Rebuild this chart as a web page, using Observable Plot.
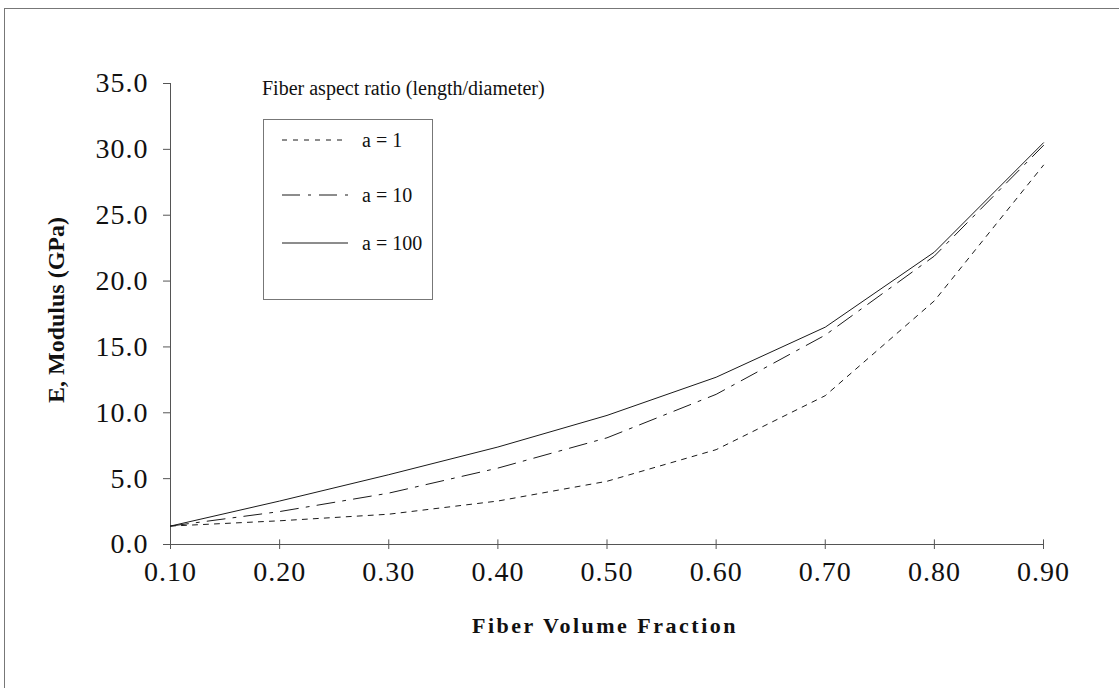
<!DOCTYPE html>
<html>
<head>
<meta charset="utf-8">
<script src="https://cdn.jsdelivr.net/npm/d3@7"></script>
<script src="https://cdn.jsdelivr.net/npm/@observablehq/plot@0.6"></script>
<style>
  html, body { margin: 0; padding: 0; background: #fff; }
  #wrap { position: relative; width: 1119px; height: 688px; overflow: hidden;
          font-family: "Liberation Serif", "Times New Roman", serif; color: #111; }
  #frame { position: absolute; left: 4px; top: 8px; width: 1130px; height: 720px;
           border-left: 1px solid #777; border-top: 1px solid #777; }
  #chart { position: absolute; left: 0; top: 0; }
  #chart svg text { letter-spacing: 1px; }
  .ytitle { position: absolute; left: 56px; top: 310px; transform: translate(-50%, -50%) rotate(-90deg);
            font-weight: bold; font-size: 24px; white-space: nowrap; }
  .xtitle { position: absolute; left: 605px; top: 626px; transform: translate(-50%, -50%);
            font-weight: bold; font-size: 22px; letter-spacing: 2.5px; white-space: nowrap; }
  #legendTitle { position: absolute; left: 262px; top: 88px; transform: translateY(-50%);
                 font-size: 20px; white-space: nowrap; }
  #legendBox { position: absolute; left: 263px; top: 119px; width: 168px; height: 179px;
               border: 1px solid #777; }
  .lrow { position: absolute; left: 18px; height: 24px; display: flex; align-items: center;
          font-size: 20px; white-space: nowrap; }
  .lrow svg { margin-right: 14px; }
</style>
</head>
<body>
<div id="wrap">
  <div id="frame"></div>
  <div id="chart"></div>
  <div class="ytitle">E, Modulus (GPa)</div>
  <div class="xtitle">Fiber Volume Fraction</div>
  <div id="legendTitle"></div>
  <div id="legendBox"></div>
</div>
<script>
// ---- data ----
const volumeFraction = [0.10, 0.20, 0.30, 0.40, 0.50, 0.60, 0.70, 0.80, 0.90];
const modulusA1   = [1.4, 1.8, 2.3, 3.3, 4.8, 7.2, 11.3, 18.5, 28.8];
const modulusA10  = [1.4, 2.5, 3.9, 5.8, 8.1, 11.4, 15.9, 21.9, 30.3];
const modulusA100 = [1.4, 3.3, 5.3, 7.4, 9.8, 12.7, 16.5, 22.2, 30.5];
const seriesNames = ["a = 1", "a = 10", "a = 100"];
const xTicks = [0.10, 0.20, 0.30, 0.40, 0.50, 0.60, 0.70, 0.80, 0.90];
const yTicks = [0, 5, 10, 15, 20, 25, 30, 35];
const legendTitle = "Fiber aspect ratio (length/diameter)";

// ---- styles ----
const dashes = ["5,6", "18,8,3,8", null];
const seriesValues = [modulusA1, modulusA10, modulusA100];

const rows = [];
seriesNames.forEach((name, i) => {
  volumeFraction.forEach((v, j) => rows.push({series: name, vf: v, E: seriesValues[i][j]}));
});

const lineMarks = seriesNames.map((name, i) =>
  Plot.line(rows.filter(d => d.series === name), {
    x: "vf", y: "E", stroke: "#1a1a1a", strokeWidth: 1,
    strokeDasharray: dashes[i] ?? undefined
  })
);

const chart = Plot.plot({
  width: 1119,
  height: 688,
  marginLeft: 170,
  marginRight: 76,
  marginTop: 83,
  marginBottom: 144,
  x: {domain: [0.1, 0.9]},
  y: {domain: [0, 35]},
  style: {fontFamily: '"Liberation Serif", "Times New Roman", serif', fontSize: "28px",
          color: "#111", background: "transparent", overflow: "visible"},
  marks: [
    Plot.ruleX([0.1], {stroke: "#555", strokeWidth: 1}),
    Plot.ruleY([0], {stroke: "#555", strokeWidth: 1}),
    Plot.axisY({ticks: yTicks, tickSize: 7, tickPadding: 15, tickFormat: d => d.toFixed(1),
                label: null, fontSize: 28, stroke: "#555"}),
    Plot.axisX({ticks: xTicks, tickSize: 5, tickPadding: 12, tickFormat: d => d.toFixed(2),
                label: null, fontSize: 28, stroke: "#555"}),
    Plot.ruleX(xTicks, {x: d => d, y1: 0, y2: 0.35, stroke: "#555"}),
    ...lineMarks
  ]
});
document.getElementById("chart").appendChild(chart);

// ---- legend ----
document.getElementById("legendTitle").textContent = legendTitle;
const box = document.getElementById("legendBox");
const rowTops = [8, 63, 111];
seriesNames.forEach((name, i) => {
  const row = document.createElement("div");
  row.className = "lrow";
  row.style.top = rowTops[i] + "px";
  const svg = d3.create("svg").attr("width", 66).attr("height", 10);
  svg.append("line").attr("x1", 0).attr("x2", 66).attr("y1", 5).attr("y2", 5)
    .attr("stroke", "#1a1a1a").attr("stroke-width", 1)
    .attr("stroke-dasharray", dashes[i]);
  row.appendChild(svg.node());
  const t = document.createElement("span");
  t.textContent = name;
  row.appendChild(t);
  box.appendChild(row);
});
</script>
</body>
</html>
